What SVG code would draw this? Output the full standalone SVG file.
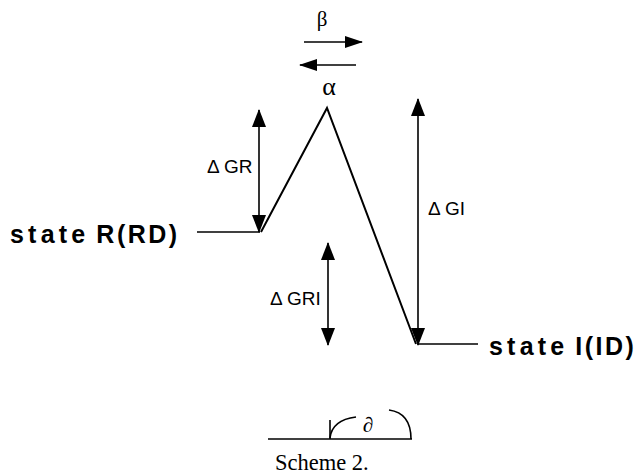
<svg xmlns="http://www.w3.org/2000/svg" width="641" height="475" viewBox="0 0 641 475">
<defs>
<style>
.ln{stroke:#000;stroke-width:1.6;fill:none}
.dg{stroke:#000;stroke-width:2;fill:none}
.st{font-family:"Liberation Sans",Arial,sans-serif;font-weight:bold;font-size:25px;fill:#000}
.lb{font-family:"Liberation Sans",Arial,sans-serif;font-size:19px;fill:#000}
.gr{font-family:"Liberation Serif","DejaVu Serif",serif;fill:#000;text-anchor:middle}
</style>
<marker id="ah" markerUnits="userSpaceOnUse" markerWidth="18" markerHeight="14" refX="17" refY="7" orient="auto-start-reverse" viewBox="0 0 18 14">
<path d="M0,0 L18,7 L0,14 z" fill="#000"/>
</marker>
<marker id="ahs" markerUnits="userSpaceOnUse" markerWidth="18" markerHeight="12" refX="17" refY="6" orient="auto-start-reverse" viewBox="0 0 18 12">
<path d="M0,0 L18,6 L0,12 z" fill="#000"/>
</marker>
</defs>
<rect width="641" height="475" fill="#fff"/>

<g id="connectors">
<path class="dg" d="M261,232 L327,108 L416,344"/>
<line class="ln" x1="197" y1="232" x2="260" y2="232"/>
<line class="ln" x1="418" y1="344" x2="478" y2="344"/>
<line class="ln" x1="259" y1="110" x2="259" y2="232" marker-start="url(#ah)" marker-end="url(#ah)"/>
<line class="ln" x1="418" y1="99" x2="418" y2="345" marker-start="url(#ah)" marker-end="url(#ah)"/>
<line class="ln" x1="328" y1="243" x2="328" y2="345" marker-start="url(#ah)" marker-end="url(#ah)"/>
<line class="ln" x1="304" y1="42" x2="362" y2="42" marker-end="url(#ahs)"/>
<line class="ln" x1="356" y1="65" x2="300" y2="65" marker-end="url(#ahs)"/>
</g>

<g id="stateR">
<text class="st" x="10" y="243"><tspan letter-spacing="4.2">state</tspan> <tspan letter-spacing="2.5">R(RD)</tspan></text>
</g>
<g id="stateI">
<text class="st" x="489" y="355"><tspan letter-spacing="4.2">state</tspan> <tspan letter-spacing="2.5">I(ID)</tspan></text>
</g>
<g id="transition">
<text class="gr" x="329" y="95" font-size="26">α</text>
<text class="gr" x="322" y="26" font-size="21">β</text>
</g>
<g id="labels">
<text class="lb" x="207" y="173">Δ GR</text>
<text class="lb" x="270" y="305">Δ GRI</text>
<text class="lb" x="428" y="215">Δ GI</text>
</g>
<g id="angle">
<line class="ln" x1="268" y1="439" x2="412" y2="439"/>
<line class="ln" x1="330" y1="420" x2="330" y2="439"/>
<path class="ln" d="M330,438 Q332,420 356,417"/>
<path class="ln" d="M389,410 Q411,413 411,439"/>
<text class="gr" x="368" y="432" font-size="21">∂</text>
</g>
<g id="caption">
<text x="275" y="470" font-family="'Liberation Serif','Times New Roman',serif" font-size="22.5" fill="#000">Scheme 2.</text>
</g>
</svg>
